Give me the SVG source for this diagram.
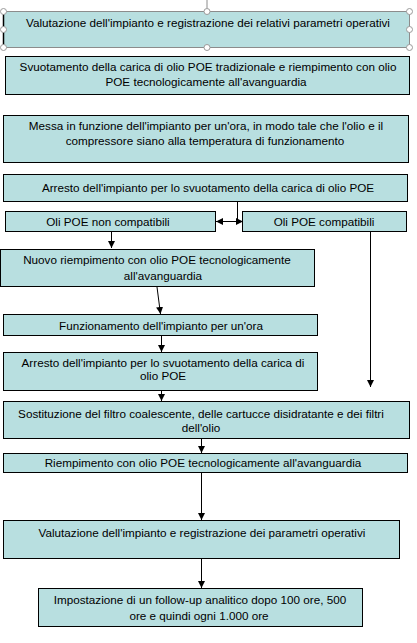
<svg xmlns="http://www.w3.org/2000/svg" width="417" height="643" viewBox="0 0 417 643">
<defs>
<style>
.box{fill:#b8dfe0;stroke:#000;stroke-width:1}
.t{font-family:"Liberation Sans",Arial,sans-serif;font-size:11.7px;fill:#000;text-anchor:middle}
.c{stroke:#000;stroke-width:1;fill:none}
.a{marker-end:url(#ah)}
.h{fill:#fff;stroke:#9a9a9a;stroke-width:1}
</style>
<marker id="ah" markerUnits="userSpaceOnUse" markerWidth="8" markerHeight="8" refX="7" refY="3.5" orient="auto">
<path d="M0,0 L7,3.5 L0,7 z" fill="#000"/>
</marker>
</defs>
<rect width="417" height="643" fill="#fff"/>
<g id="n1">
<rect x="3.5" y="11.5" width="406" height="36" fill="#b8dfe0" stroke="#8c8c8c"/>
<line x1="3.5" y1="11" x2="3.5" y2="48" stroke="#000" stroke-width="1.5"/>
<line x1="207" y1="0" x2="207" y2="8" stroke="#8c8c8c"/>
<circle class="h" cx="3.5" cy="11.5" r="3"/>
<circle class="h" cx="207" cy="11.5" r="3"/>
<circle class="h" cx="409.5" cy="11.5" r="3"/>
<circle class="h" cx="3.5" cy="29.5" r="3"/>
<circle class="h" cx="409.5" cy="29.5" r="3"/>
<circle class="h" cx="3.5" cy="47.5" r="3"/>
<circle class="h" cx="207" cy="47.5" r="3"/>
<circle class="h" cx="409.5" cy="47.5" r="3"/>
<text class="t" x="208" y="27">Valutazione dell'impianto e registrazione dei relativi parametri operativi</text>
</g>
<g id="n2">
<rect class="box" x="5.5" y="56.5" width="404" height="38"/>
<text class="t" x="208" y="71">Svuotamento della carica di olio POE tradizionale e riempimento con olio</text>
<text class="t" x="206" y="86">POE tecnologicamente all'avanguardia</text>
</g>
<g id="n3">
<rect class="box" x="3.5" y="115.5" width="405" height="47"/>
<text class="t" x="206" y="130">Messa in funzione dell'impianto per un'ora, in modo tale che l'olio e il</text>
<text class="t" x="205" y="145">compressore siano alla temperatura di funzionamento</text>
</g>
<g id="n4">
<rect class="box" x="3.5" y="174.5" width="404" height="27"/>
<text class="t" x="208" y="192">Arresto dell'impianto per lo svuotamento della carica di olio POE</text>
</g>
<g id="n5">
<rect class="box" x="5.5" y="211.5" width="210" height="20"/>
<text class="t" x="108" y="226">Oli POE non compatibili</text>
</g>
<g id="n6">
<rect class="box" x="242.5" y="211.5" width="164" height="20"/>
<text class="t" x="324" y="226">Oli POE compatibili</text>
</g>
<g id="n7">
<rect class="box" x="0.5" y="249.5" width="314" height="37"/>
<text class="t" x="157" y="264">Nuovo riempimento con olio POE tecnologicamente</text>
<text class="t" x="163" y="280">all'avanguardia</text>
</g>
<g id="n8">
<rect class="box" x="3.5" y="314.5" width="314" height="21"/>
<text class="t" x="161" y="330">Funzionamento dell'impianto per un'ora</text>
</g>
<g id="n9">
<rect class="box" x="3.5" y="352.5" width="314" height="38"/>
<text class="t" x="163" y="367">Arresto dell'impianto per lo svuotamento della carica di</text>
<text class="t" x="163" y="380">olio POE</text>
</g>
<g id="n10">
<rect class="box" x="3.5" y="401.5" width="406" height="37"/>
<text class="t" x="201" y="418">Sostituzione del filtro coalescente, delle cartucce disidratante e dei filtri</text>
<text class="t" x="201" y="432">dell'olio</text>
</g>
<g id="n11">
<rect class="box" x="3.5" y="453.5" width="404" height="19"/>
<text class="t" x="203" y="467">Riempimento con olio POE tecnologicamente all'avanguardia</text>
</g>
<g id="n12">
<rect class="box" x="3.5" y="520.5" width="396" height="38"/>
<text class="t" x="202" y="537">Valutazione dell'impianto e registrazione dei parametri operativi</text>
</g>
<g id="n13">
<rect class="box" x="38.5" y="588.5" width="324" height="38"/>
<text class="t" x="200" y="604">Impostazione di un follow-up analitico dopo 100 ore, 500</text>
<text class="t" x="199" y="620">ore e quindi ogni 1.000 ore</text>
</g>
<g id="connectors">
<line class="c" x1="237.5" y1="202" x2="237.5" y2="221.5"/>
<line class="c a" x1="237.5" y1="221.5" x2="216" y2="221.5"/>
<line class="c a" x1="237.5" y1="221.5" x2="243" y2="221.5"/>
<line class="c a" x1="111.5" y1="232" x2="111.5" y2="248"/>
<line class="c a" x1="157" y1="287" x2="160.5" y2="314"/>
<line class="c a" x1="161.5" y1="336" x2="161.5" y2="352"/>
<line class="c a" x1="370.5" y1="232" x2="370.5" y2="387"/>
<line class="c a" x1="161.5" y1="391" x2="161.5" y2="401"/>
<line class="c a" x1="201.5" y1="439" x2="201.5" y2="453"/>
<line class="c a" x1="201.5" y1="473" x2="201.5" y2="520"/>
<line class="c a" x1="201.5" y1="559" x2="201.5" y2="588"/>
</g>
</svg>
